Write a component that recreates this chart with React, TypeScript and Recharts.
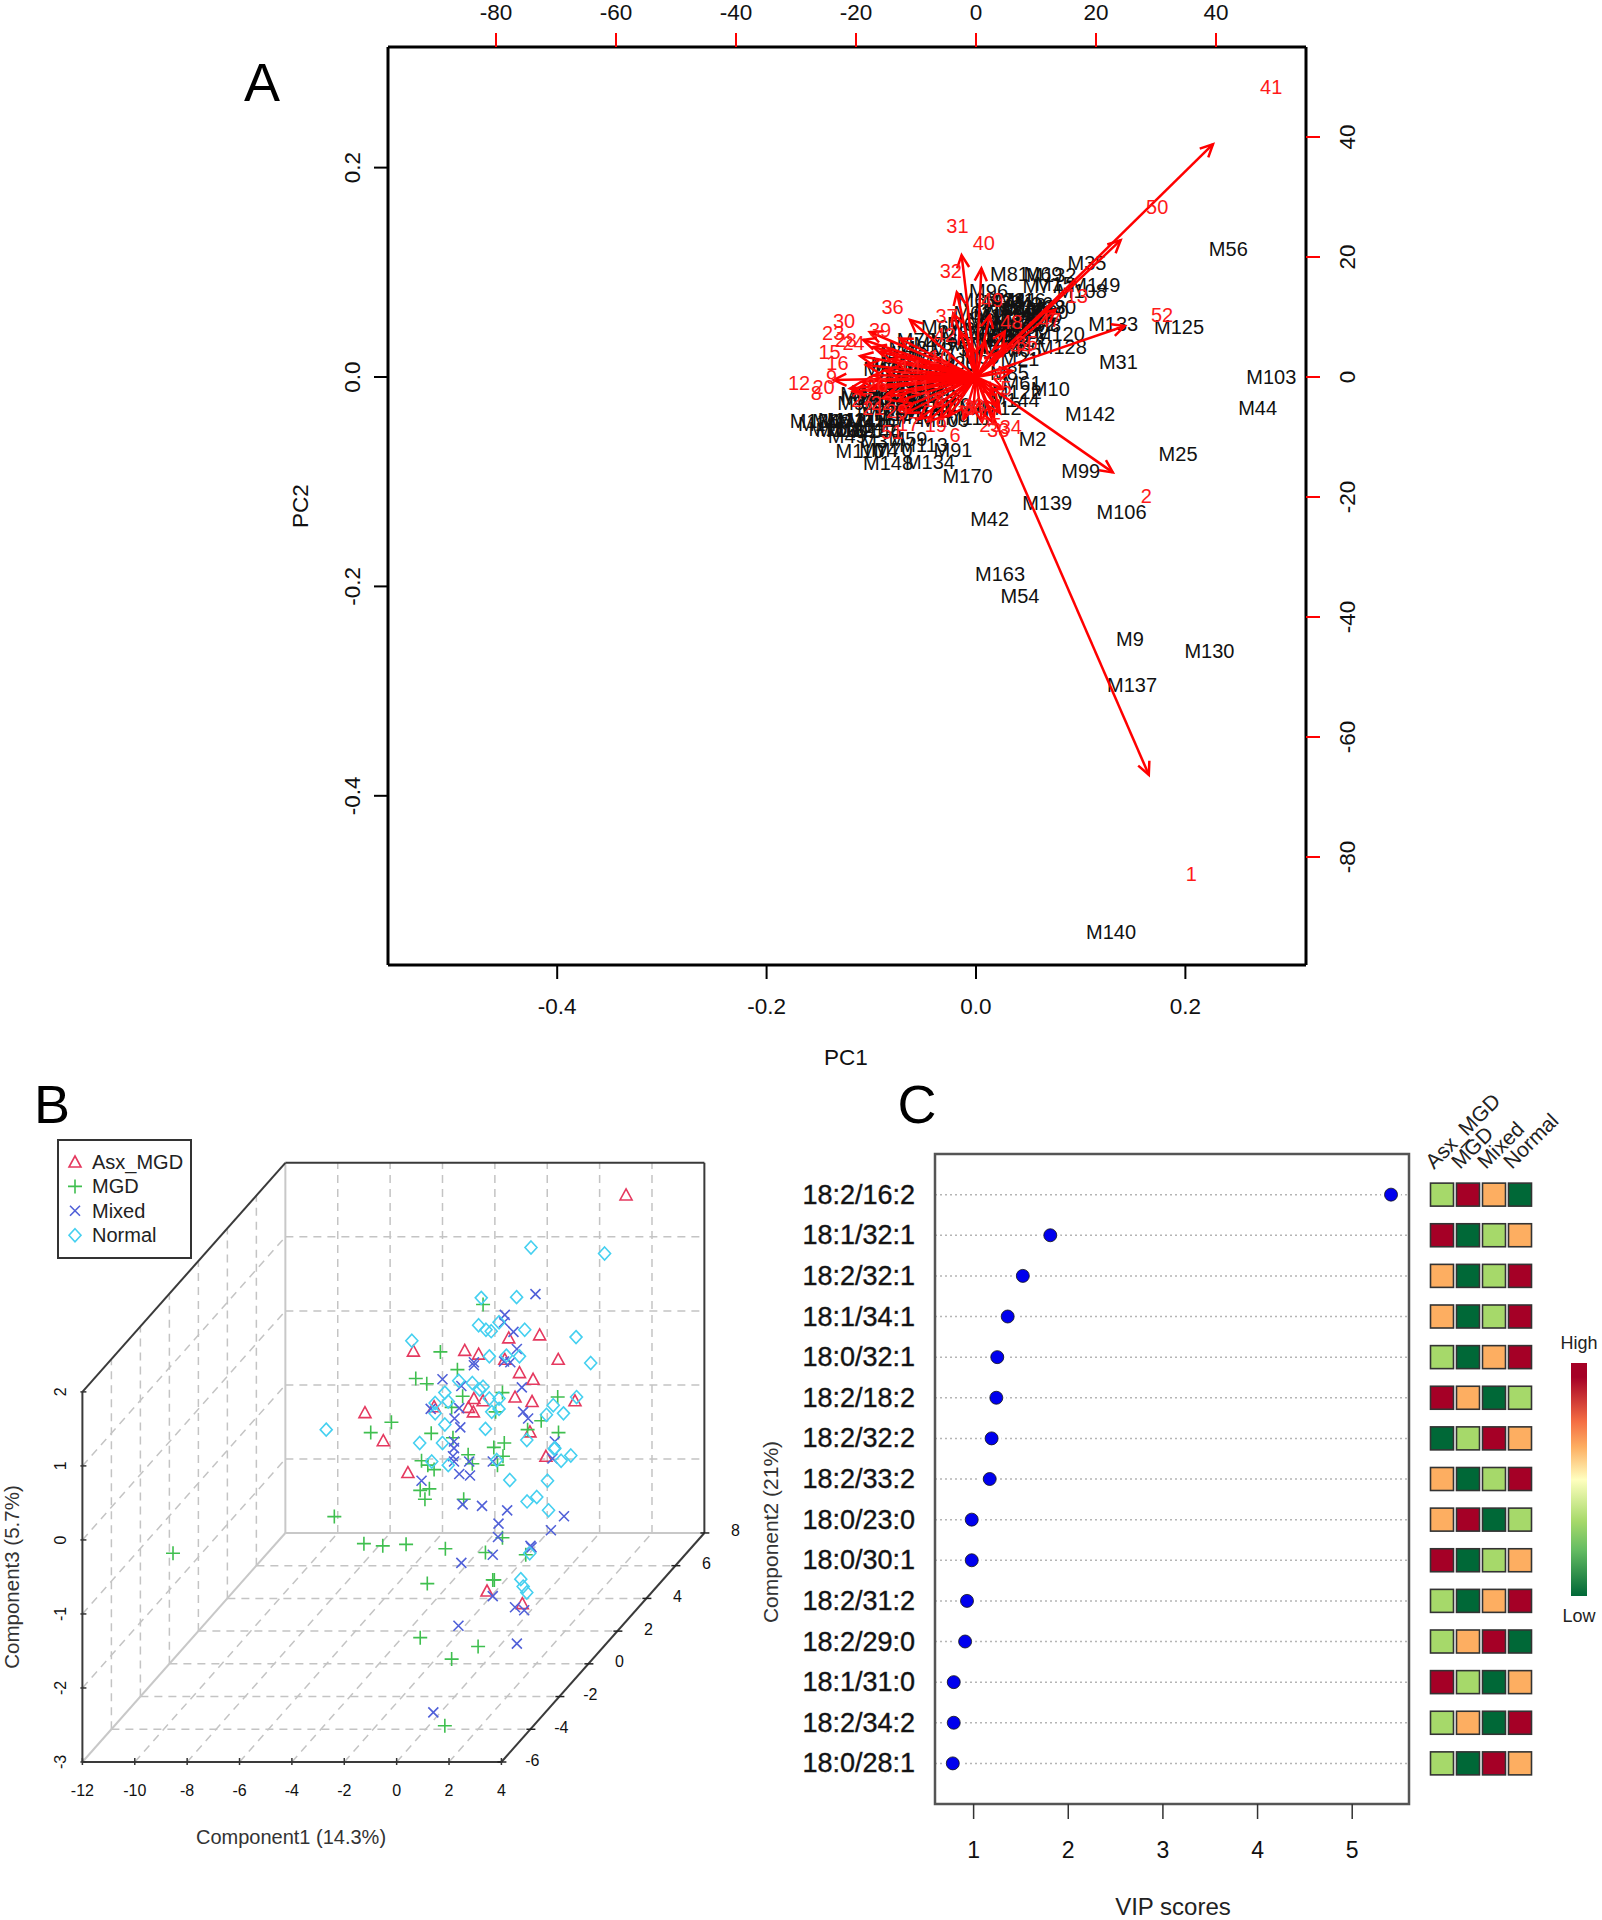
import { CartesianGrid, Legend, ReferenceArea, ReferenceLine, Scatter, ScatterChart, XAxis, YAxis } from "recharts";

const FONT = "'Liberation Sans', Arial, sans-serif";

// ---- Panel A: biplot ----
const pcDomain = [-0.5616, 0.3152];
const loadingDomain = [-98, 55];
const pcTicks = [-0.4, -0.2, 0, 0.2];
const loadingTicks = [-80, -60, -40, -20, 0, 20, 40];

// sample labels: name, PC1, PC2
const samplesOuter: [string, number, number][] = [
  ["M56", 0.241, 0.122], ["M125", 0.194, 0.048], ["M103", 0.282, 0], ["M44", 0.269, -0.03],
  ["M25", 0.193, -0.074], ["M139", 0.068, -0.12], ["M106", 0.139, -0.129], ["M42", 0.013, -0.136],
  ["M163", 0.023, -0.188], ["M54", 0.042, -0.209], ["M9", 0.147, -0.25], ["M130", 0.223, -0.262],
  ["M137", 0.149, -0.294], ["M140", 0.129, -0.53], ["M133", 0.131, 0.051], ["M120", 0.08, 0.041],
  ["M128", 0.082, 0.029], ["M31", 0.136, 0.014], ["M142", 0.109, -0.035], ["M10", 0.071, -0.011],
  ["M2", 0.054, -0.059], ["M99", 0.1, -0.09], ["M170", -0.008, -0.095], ["M35", 0.106, 0.109],
  ["M149", 0.114, 0.088], ["M81", 0.032, 0.098], ["M69", 0.064, 0.098], ["M132", 0.072, 0.097],
  ["M77", 0.063, 0.087], ["M15", 0.075, 0.089], ["M108", 0.101, 0.082],
];
const samplesUpper: [string, number, number][] = [
  ["M96", 0.012, 0.082], ["M33", 0.028, 0.074], ["M16", 0.048, 0.074], ["M30", 0.077, 0.067],
  ["M61", 0.044, -0.006], ["M122", 0.039, -0.014], ["M144", 0.037, -0.022], ["M12", 0.025, -0.03],
  ["M85", 0.032, 0.004], ["M21", 0.042, 0.017], ["M65", 0.044, 0.026], ["M14", 0.048, 0.035],
  ["M82", 0.058, 0.051], ["M18", 0.017, 0.064], ["M22", 0.036, 0.067], ["M26", 0.055, 0.07],
  ["M28", 0.067, 0.067], ["M34", 0.01, 0.054], ["M38", 0.026, 0.058], ["M40", 0.045, 0.058],
  ["M45", 0.064, 0.059], ["M47", 0.007, 0.045], ["M48", 0.023, 0.046], ["M50", 0.039, 0.048],
  ["M52", 0.052, 0.043], ["M53", 0.017, 0.039], ["M55", 0.032, 0.039], ["M57", 0.013, 0.029],
  ["M58", 0.026, 0.029], ["M60", 0.004, 0.019], ["M62", -0.003, 0.061], ["M63", 0.001, 0.074],
  ["M64", -0.009, 0.051], ["M66", -0.015, 0.042], ["M67", -0.034, 0.048], ["M68", -0.025, 0.035],
  ["M71", -0.007, 0.032], ["M1", 0.02, 0.052], ["M3", 0.03, 0.05], ["M5", 0.04, 0.04],
  ["M6", 0.05, 0.052], ["M7", 0.06, 0.06], ["M8", 0.068, 0.05], ["M11", 0.015, 0.058],
  ["M13", 0.028, 0.066], ["M17", 0.042, 0.064], ["M19", 0.056, 0.062], ["M20", 0.07, 0.062],
  ["M23", 0.02, 0.035], ["M24", 0.03, 0.033], ["M27", 0.045, 0.046], ["M29", 0.012, 0.042],
  ["M32", 0.035, 0.055], ["M36", 0.05, 0.065], ["M39", 0.025, 0.072], ["M41", 0.04, 0.074],
];
const samplesLeft: [string, number, number][] = [
  ["M72", -0.057, 0.035], ["M73", -0.041, 0.032], ["M75", -0.025, 0.027], ["M76", -0.073, 0.023],
  ["M78", -0.053, 0.019], ["M79", -0.038, 0.016], ["M80", -0.018, 0.013], ["M83", -0.089, 0.008],
  ["M84", -0.073, 0.007], ["M86", -0.057, 0.004], ["M87", -0.038, 0.002], ["M88", -0.018, 0],
  ["M89", -0.085, -0.006], ["M90", -0.066, -0.009], ["M92", -0.047, -0.011], ["M93", -0.028, -0.012],
  ["M94", -0.101, -0.014], ["M95", -0.111, -0.016], ["M97", -0.114, -0.025], ["M98", -0.095, -0.028],
  ["M100", -0.076, -0.022], ["M101", -0.057, -0.025], ["M102", -0.038, -0.027], ["M104", -0.018, -0.027],
  ["M105", -0.073, -0.035], ["M107", -0.053, -0.038], ["M109", -0.03, -0.041], ["M4", -0.003, -0.03],
  ["M111", -0.007, -0.039], ["M136", -0.154, -0.042], ["M46", -0.138, -0.042], ["M112", -0.128, -0.041],
  ["M114", -0.119, -0.041], ["M115", -0.109, -0.041], ["M116", -0.1, -0.041], ["M117", -0.09, -0.041],
  ["M118", -0.13, -0.051], ["M119", -0.12, -0.051], ["M121", -0.111, -0.051], ["M49", -0.123, -0.056],
  ["M37", -0.092, -0.061], ["M59", -0.065, -0.059], ["M113", -0.05, -0.065], ["M91", -0.022, -0.07],
  ["M110", -0.111, -0.071], ["M70", -0.079, -0.07], ["M74", -0.093, -0.07], ["M148", -0.084, -0.082],
  ["M134", -0.044, -0.081], ["M43", -0.065, 0.028], ["M51", -0.082, 0.012], ["M123", -0.063, -0.002],
  ["M124", -0.045, 0.008], ["M126", -0.08, -0.015], ["M127", -0.06, -0.017], ["M129", -0.042, -0.018],
  ["M131", -0.09, -0.02], ["M135", -0.105, -0.02], ["M138", -0.07, -0.03], ["M141", -0.045, -0.032],
  ["M143", -0.085, -0.035], ["M145", -0.1, -0.047], ["M146", -0.095, -0.052], ["M147", -0.146, -0.045],
  ["M150", -0.136, -0.05],
];

// arrow tips in the top/right axis units
const loadingTips: [number, number][] = [
  [39.5, 38.8], [28.8, -66.3], [22.8, -15.9], [24.8, 8.5], [24.1, 22.8], [-2.4, 20.3], [0.9, 18.1], [-3.2, 14.1],
  [2.3, 10.3], [4.8, 7.6], [13.2, 11.2], [-2.7, 7.6], [-3.8, 10.6], [-11, 9.5], [-17.7, 7.5], [-18.8, 6.2],
  [-17.1, 5], [-19.3, 3.5], [-18.3, 2], [-23.7, -0.5], [-21, -1.9], [-12.7, 6.4], [-16, 4.2], [-14, 3],
  [-15, 1], [-17, 0.3], [-19, -0.8], [-20.5, -2.4], [-14.6, -2.7], [-13, -4], [-11.6, -6], [-12.8, -5.4],
  [-9.5, -7], [-8, -7.4], [-6, -7], [-4.5, -6.5], [-2, -7], [-0.5, -6], [-17, -1.5], [-15.5, -3.5],
  [4, -6], [2.9, -7.7], [3.7, -5], [3, -3], [4.5, -2], [6, 1], [3.5, 4], [5, 5.5], [1.5, 6], [-1, 5.5],
  [1, -7.5], [-7, -5],
];
const loadingLabels: [string, number, number][] = [
  ["41", 49.2, 48.4], ["50", 30.2, 28.4], ["2", 28.4, -19.8], ["1", 35.9, -82.9], ["52", 31, 10.4],
  ["31", -3.1, 25.2], ["40", 1.3, 22.3], ["32", -4.2, 17.6], ["36", -13.9, 11.7], ["30", -22, 9.4],
  ["23", -23.8, 7.3], ["28", -21.7, 6.2], ["24", -20.4, 5.6], ["39", -16, 7.9], ["15", -24.4, 4.2],
  ["16", -23.1, 2.3], ["12", -29.5, -1.06], ["9", -24.06, 0.06], ["20", -25.4, -1.6], ["8", -26.6, -2.6],
  ["37", -4.9, 10.2], ["42", -5.2, 7], ["49", 2.7, 12.9], ["48", 5.9, 9.2], ["13", 16.8, 13.5],
  ["47", 12.3, 9.5], ["27", -19, -3.8], ["21", -17.1, -5.2], ["22", -15.7, -4.4], ["29", -13.2, -5.6],
  ["17", -11.3, -7.8], ["51", -14, -9.1], ["19", -6.7, -8], ["6", -3.5, -9.7], ["3", -1, -5.2],
  ["25", 2.4, -8], ["33", 3.7, -8.8], ["34", 5.8, -8.4], ["5", 5, -1.9], ["4", 3.7, 0.3],
  ["10", -6, 3.4], ["11", -9.3, -1.6], ["14", -11, 1.7], ["18", -7.1, -3.8], ["26", -16.6, -1.3],
  ["35", 8.4, 5.6], ["38", -0.4, -4.9], ["44", 7.6, 5], ["7", -2.1, -6],
];

// ---- Panel B: 3D scatter, read as projected onto Component1 / Component3 of the front face ----
const comp1Ticks = [-12, -10, -8, -6, -4, -2, 0, 2, 4];
const comp2Ticks = [-6, -4, -2, 0, 2, 4, 6, 8];
const comp3Ticks = [-3, -2, -1, 0, 1, 2];
const DEPTH_X = 0.5536;
const DEPTH_Y = 0.221;
const project = (c1: number, c2: number, c3: number) => ({ x: c1 + (c2 + 6) * DEPTH_X, y: c3 + (c2 + 6) * DEPTH_Y });

const asxMgd: [number, number][] = [
  [8.76, 4.66], [0.64, 2.55], [2.6, 2.56], [3.13, 2.51], [4.28, 2.73], [5.46, 2.77], [6.17, 2.44], [4.13, 2.44],
  [4.69, 2.26], [5.21, 2.17], [2.95, 1.91], [3.3, 1.88], [4.52, 1.93], [5.17, 1.87], [6.81, 1.88], [1.43, 1.8],
  [2.74, 1.79], [2.93, 1.73], [-1.21, 1.72], [-0.51, 1.34], [5.09, 1.46], [5.7, 1.13], [0.43, 0.91], [3.45, -0.69],
  [4.8, -0.86],
];
const mgd: [number, number][] = [
  [3.3, 3.18], [1.67, 2.54], [2.32, 2.3], [0.73, 2.18], [1.15, 2.11], [4.04, 1.99], [2.52, 1.94], [6.15, 1.93],
  [2.1, 1.79], [3.78, 1.73], [-0.2, 1.59], [-0.99, 1.45], [1.32, 1.44], [5.52, 1.61], [5, 1.49], [6.18, 1.45],
  [2.15, 1.38], [4.11, 1.31], [3.71, 1.25], [4.06, 1.13], [2.73, 1.15], [0.95, 1.07], [2.89, 1.03], [3.85, 1.01],
  [1.19, 1.01], [1.43, 0.95], [1.25, 0.69], [0.9, 0.67], [1.08, 0.55], [2.56, 0.55], [-2.38, 0.315], [-1.25, -0.05],
  [-0.53, -0.08], [0.36, -0.06], [1.86, -0.12], [3.39, -0.17], [4.93, -0.2], [4.04, 0.03], [-8.54, -0.18], [1.17, -0.59],
  [3.73, -0.54], [3.67, -0.54], [0.9, -1.32], [3.11, -1.44], [2.1, -1.61], [1.84, -2.51],
];
const mixed: [number, number][] = [
  [5.3, 3.32], [4.13, 3.04], [4.1, 2.94], [4.46, 2.81], [4.59, 2.58], [4.1, 2.41], [4.34, 2.4], [2.95, 2.4],
  [2.95, 2.36], [1.75, 2.17], [2.47, 2.08], [4.78, 2.06], [1.3, 1.77], [2.39, 1.78], [4.83, 1.73], [5.02, 1.64],
  [2.21, 1.64], [2.43, 1.52], [6.04, 1.33], [2.19, 1.33], [2.19, 1.24], [2.15, 1.13], [2.19, 1.06], [2.77, 1.06],
  [3.67, 1.06], [5.95, 1.1], [2.39, 0.89], [2.8, 0.87], [0.95, 0.8], [2.52, 0.48], [3.26, 0.46], [4.22, 0.4],
  [6.39, 0.32], [3.89, 0.22], [5.89, 0.13], [3.87, 0.04], [5.11, -0.08], [5.15, -0.1], [3.67, -0.2], [2.47, -0.31],
  [3.67, -0.76], [4.52, -0.91], [4.87, -0.95], [2.36, -1.16], [4.59, -1.4], [1.4, -2.33],
];
const normal: [number, number][] = [
  [5.13, 3.95], [7.94, 3.87], [3.23, 3.27], [4.58, 3.28], [3.13, 2.9], [3.91, 2.94], [3.41, 2.84], [3.61, 2.82],
  [4.89, 2.84], [0.58, 2.69], [6.85, 2.74], [3.54, 2.48], [4.19, 2.49], [4.69, 2.48], [7.41, 2.39], [2.37, 2.15],
  [2.89, 2.12], [3.3, 2.07], [3.17, 2.03], [1.84, 1.99], [3.54, 1.91], [3.91, 1.91], [1.97, 1.87], [1.47, 1.85],
  [6.87, 1.93], [3.91, 1.77], [1.47, 1.71], [3.63, 1.73], [5.98, 1.82], [6.37, 1.71], [5.72, 1.69], [1.84, 1.56],
  [3.39, 1.5], [-2.69, 1.49], [0.88, 1.31], [1.75, 1.31], [4.97, 1.35], [6.04, 1.24], [6.65, 1.14], [6.28, 1.07],
  [1.34, 1.06], [1.97, 1.01], [3.82, 1.08], [6.02, 1.23], [4.32, 0.81], [5.76, 0.8], [5.35, 0.58], [4.98, 0.52],
  [5.8, 0.4], [5.08, -0.18], [4.74, -0.53], [4.83, -0.63], [4.97, -0.71],
];

const groups = [
  { name: "Asx_MGD", glyph: "triangle", color: "#e5395f", points: asxMgd },
  { name: "MGD", glyph: "plus", color: "#3fbf4f", points: mgd },
  { name: "Mixed", glyph: "cross", color: "#5060d8", points: mixed },
  { name: "Normal", glyph: "diamond", color: "#45d0f0", points: normal },
];

// ---- Panel C: VIP scores and group heat map ----
const lipids = [
  "18:2/16:2", "18:1/32:1", "18:2/32:1", "18:1/34:1", "18:0/32:1", "18:2/18:2", "18:2/32:2", "18:2/33:2",
  "18:0/23:0", "18:0/30:1", "18:2/31:2", "18:2/29:0", "18:1/31:0", "18:2/34:2", "18:0/28:1",
];
const vipScores = [5.41, 1.81, 1.52, 1.36, 1.25, 1.24, 1.19, 1.17, 0.98, 0.98, 0.93, 0.91, 0.79, 0.79, 0.78];
const vipTicks = [1, 2, 3, 4, 5];
const heatGroups = ["Asx_MGD", "MGD", "Mixed", "Normal"];
// 4 = highest group, 1 = lowest group
const heatRanks = [
  [2, 4, 3, 1], [4, 1, 2, 3], [3, 1, 2, 4], [3, 1, 2, 4], [2, 1, 3, 4], [4, 3, 1, 2], [1, 2, 4, 3], [3, 1, 2, 4],
  [3, 4, 1, 2], [4, 1, 2, 3], [2, 1, 3, 4], [2, 3, 4, 1], [4, 2, 1, 3], [2, 3, 1, 4], [2, 1, 4, 3],
];
const heatColors: Record<number, string> = { 1: "#006837", 2: "#a6d96a", 3: "#fdae61", 4: "#a50026" };

// ---- shapes ----
const toPoints = (rows: [string, number, number][]) => rows.map(([label, x, y]) => ({ label, x, y }));

const LabelMark = (color: string) => (p: any) => (
  <text x={p.cx} y={p.cy} fill={color} fontSize={20} fontFamily={FONT} textAnchor="middle" dominantBaseline="central">
    {p.payload.label}
  </text>
);

const ArrowHead = (p: any) => {
  const { x, y } = p.payload;
  if (x === 0 && y === 0) return <g />;
  const a = Math.atan2(-y, x);
  const wing = (s: number) => `${p.cx - 14 * Math.cos(a + s)},${p.cy - 14 * Math.sin(a + s)}`;
  return (
    <polyline points={`${wing(0.45)} ${p.cx},${p.cy} ${wing(-0.45)}`} fill="none" stroke="#ff0000" strokeWidth={2.5} />
  );
};

function Glyph({ kind, x, y, color }: { kind: string; x: number; y: number; color: string }) {
  const common = { fill: "none", stroke: color, strokeWidth: 1.6 };
  if (kind === "triangle") return <polygon points={`${x},${y - 6} ${x + 6},${y + 5} ${x - 6},${y + 5}`} {...common} />;
  if (kind === "plus") return <path d={`M${x - 7} ${y}H${x + 7}M${x} ${y - 7}V${y + 7}`} {...common} />;
  if (kind === "cross") return <path d={`M${x - 5} ${y - 5}L${x + 5} ${y + 5}M${x - 5} ${y + 5}L${x + 5} ${y - 5}`} {...common} />;
  return <polygon points={`${x},${y - 6.5} ${x + 6},${y} ${x},${y + 6.5} ${x - 6},${y}`} {...common} />;
}

function Caption({ x, y, size, rotate = 0, color = "#222", children }: any) {
  return (
    <div
      style={{
        position: "absolute",
        left: x,
        top: y,
        transform: `translate(-50%, -50%) rotate(${rotate}deg)`,
        fontFamily: FONT,
        fontSize: size,
        color,
        whiteSpace: "nowrap",
        lineHeight: 1,
      }}
    >
      {children}
    </div>
  );
}

// ---- ticks ----
const tickText = { fontFamily: FONT, fill: "#111", dominantBaseline: "central" } as const;

const pcBottomTick = ({ x, y, payload }: any) => (
  <g>
    <line x1={x} x2={x} y1={y} y2={y + 14} stroke="#000" strokeWidth={2} />
    <text {...tickText} x={x} y={y + 41} fontSize={22.5} textAnchor="middle">{payload.value.toFixed(1)}</text>
  </g>
);
const pcLeftTick = ({ x, y, payload }: any) => (
  <g>
    <line x1={x} x2={x - 14} y1={y} y2={y} stroke="#000" strokeWidth={2} />
    <text {...tickText} x={x - 35} y={y} fontSize={22.5} textAnchor="middle" transform={`rotate(-90 ${x - 35} ${y})`}>
      {payload.value.toFixed(1)}
    </text>
  </g>
);
const loadingTopTick = ({ x, y, payload }: any) => (
  <g>
    <line x1={x} x2={x} y1={y} y2={y - 14} stroke="#ff0000" strokeWidth={2} />
    <text {...tickText} x={x} y={y - 35} fontSize={22.5} textAnchor="middle">{payload.value}</text>
  </g>
);
const loadingRightTick = ({ x, y, payload }: any) => (
  <g>
    <line x1={x} x2={x + 14} y1={y} y2={y} stroke="#ff0000" strokeWidth={2} />
    <text {...tickText} x={x + 41} y={y} fontSize={22.5} textAnchor="middle" transform={`rotate(-90 ${x + 41} ${y})`}>
      {payload.value}
    </text>
  </g>
);
const comp1Tick = ({ x, y, payload }: any) => (
  <g>
    <line x1={x} x2={x} y1={y - 4} y2={y + 3} stroke="#333" strokeWidth={1.5} />
    <text {...tickText} x={x} y={y + 28} fontSize={16} textAnchor="middle">{payload.value}</text>
  </g>
);
const comp3Tick = ({ x, y, payload }: any) => (
  <g>
    <line x1={x - 2} x2={x + 4} y1={y} y2={y} stroke="#333" strokeWidth={1.5} />
    <text {...tickText} x={x - 22} y={y} fontSize={16} textAnchor="middle" transform={`rotate(-90 ${x - 22} ${y})`}>
      {payload.value}
    </text>
  </g>
);
const depthMark = (p: any) => (
  <g>
    <line x1={p.cx - 4} x2={p.cx + 5} y1={p.cy} y2={p.cy} stroke="#222" strokeWidth={1.5} />
    <text {...tickText} x={p.cx + 31} y={p.cy - 2} fontSize={16} textAnchor="middle">{p.payload.label}</text>
  </g>
);
const vipTick = ({ x, y, payload }: any) => (
  <g>
    <line x1={x} x2={x} y1={y} y2={y + 15} stroke="#333" strokeWidth={1.5} />
    <text {...tickText} x={x} y={y + 46} fontSize={23} textAnchor="middle">{payload.value}</text>
  </g>
);
const lipidTick = ({ x, y, payload }: any) => (
  <text {...tickText} x={x - 20} y={y} fontSize={27} textAnchor="end" stroke="#222" strokeWidth={0.4}>
    {lipids[payload.value - 1]}
  </text>
);
const heatGroupTick = ({ x, y, payload }: any) => (
  <text
    fontFamily={FONT}
    fill="#222"
    x={x - 8}
    y={y + 16}
    fontSize={21}
    transform={`rotate(-45 ${x - 8} ${y + 16})`}
  >
    {heatGroups[payload.value - 0.5]}
  </text>
);

const vipDot = (p: any) => (
  <g>
    <circle cx={p.cx} cy={p.cy} r={10} fill="#fff" />
    <circle cx={p.cx} cy={p.cy} r={6.5} fill="#0000ee" stroke="#111" strokeWidth={0.8} />
  </g>
);
const heatCell = (p: any) => (
  <rect
    x={p.cx - 11.5}
    y={p.cy - 11.5}
    width={23}
    height={23}
    fill={heatColors[p.payload.rank]}
    stroke="#333"
    strokeWidth={1.6}
  />
);

// ---- grid of the 3D box, built from the axis ticks ----
type Seg = { from: number[]; to: number[] };
const innerC1 = comp1Ticks.slice(1, -1);
const innerC2 = comp2Ticks.slice(1, -1);
const innerC3 = comp3Ticks.slice(1, -1);
const dashedSegs: Seg[] = [
  ...innerC1.map((c) => ({ from: [c, 8, -3], to: [c, 8, 2] })),
  ...innerC3.map((c) => ({ from: [-12, 8, c], to: [4, 8, c] })),
  ...innerC2.map((c) => ({ from: [-12, c, -3], to: [-12, c, 2] })),
  ...innerC3.map((c) => ({ from: [-12, -6, c], to: [-12, 8, c] })),
  ...innerC2.map((c) => ({ from: [-12, c, -3], to: [4, c, -3] })),
  ...innerC1.map((c) => ({ from: [c, -6, -3], to: [c, 8, -3] })),
];
const lightSegs: Seg[] = [
  { from: [-12, 8, -3], to: [4, 8, -3] },
  { from: [-12, 8, -3], to: [-12, 8, 2] },
  { from: [-12, -6, -3], to: [-12, 8, -3] },
];
const darkSegs: Seg[] = [
  { from: [-12, -6, -3], to: [-12, -6, 2] },
  { from: [-12, -6, -3], to: [4, -6, -3] },
  { from: [4, -6, -3], to: [4, 8, -3] },
  { from: [-12, -6, 2], to: [-12, 8, 2] },
  { from: [-12, 8, 2], to: [4, 8, 2] },
  { from: [4, 8, 2], to: [4, 8, -3] },
];
const toSegment = (s: Seg): any => [project(s.from[0], s.from[1], s.from[2]), project(s.to[0], s.to[1], s.to[2])];

const BoxLegend = () => (
  <div style={{ width: 131, height: 116, border: "2px solid #333", background: "#fff", position: "relative" }}>
    <svg width={40} height={116} style={{ position: "absolute", left: 0, top: 0 }}>
      {groups.map((g, i) => (
        <Glyph key={g.name} kind={g.glyph} x={16} y={21 + i * 24.4} color={g.color} />
      ))}
    </svg>
    {groups.map((g, i) => (
      <div
        key={g.name}
        style={{ position: "absolute", left: 33, top: 10 + i * 24.4, fontFamily: FONT, fontSize: 20, lineHeight: "22px", color: "#222" }}
      >
        {g.name}
      </div>
    ))}
  </div>
);

const axisLine = { stroke: "#000", strokeWidth: 3 };
const tickBase = { tickLine: false, tickSize: 0, tickMargin: 0, interval: 0 as const, allowDataOverflow: true, type: "number" as const };

export default function App() {
  return (
    <div style={{ position: "absolute", left: 0, top: 0, width: 1602, height: 1920, background: "#fff", overflow: "hidden" }}>
      <div style={{ position: "absolute", left: 0, top: 0 }}>
        <ScatterChart width={1602} height={1060} margin={{ top: 0, right: 216, bottom: 35, left: 308 }}>
          <XAxis {...tickBase} xAxisId="pc" dataKey="x" orientation="bottom" height={60} domain={pcDomain} ticks={pcTicks} axisLine={axisLine} tick={pcBottomTick} />
          <XAxis {...tickBase} xAxisId="load" dataKey="x" orientation="top" height={47} domain={loadingDomain} ticks={loadingTicks} axisLine={axisLine} tick={loadingTopTick} />
          <YAxis {...tickBase} yAxisId="pc" dataKey="y" orientation="left" width={80} domain={pcDomain} ticks={pcTicks} axisLine={axisLine} tick={pcLeftTick} />
          <YAxis {...tickBase} yAxisId="load" dataKey="y" orientation="right" width={80} domain={loadingDomain} ticks={loadingTicks} axisLine={axisLine} tick={loadingRightTick} />
          {[samplesLeft, samplesUpper, samplesOuter].map((rows, i) => (
            <Scatter key={i} xAxisId="pc" yAxisId="pc" data={toPoints(rows)} shape={LabelMark("#111")} isAnimationActive={false} />
          ))}
          {loadingTips.map(([x, y], i) => (
            <Scatter
              key={`arrow-${i}`}
              xAxisId="load"
              yAxisId="load"
              data={[{ x: 0, y: 0 }, { x, y }]}
              line={{ stroke: "#ff0000", strokeWidth: 2.5 }}
              shape={ArrowHead}
              isAnimationActive={false}
            />
          ))}
          <Scatter xAxisId="load" yAxisId="load" data={toPoints(loadingLabels)} shape={LabelMark("#ff1a1a")} isAnimationActive={false} />
        </ScatterChart>
      </div>

      <div style={{ position: "absolute", left: 0, top: 1100 }}>
        <ScatterChart width={800} height={780} margin={{ top: 55, right: 76, bottom: 38, left: 12.4 }}>
          <XAxis {...tickBase} allowDataOverflow={false} dataKey="x" height={80} domain={[-12, 12.5]} ticks={comp1Ticks} axisLine={false} tick={comp1Tick} />
          <YAxis {...tickBase} allowDataOverflow={false} dataKey="y" width={70} domain={[-3, 5.2]} ticks={comp3Ticks} axisLine={false} tick={comp3Tick} />
          {dashedSegs.map((s, i) => (
            <ReferenceLine key={`d${i}`} segment={toSegment(s)} stroke="#c4c4c4" strokeWidth={1.5} strokeDasharray="8 6" ifOverflow="visible" />
          ))}
          {lightSegs.map((s, i) => (
            <ReferenceLine key={`l${i}`} segment={toSegment(s)} stroke="#c8c8c8" strokeWidth={2} ifOverflow="visible" />
          ))}
          {darkSegs.map((s, i) => (
            <ReferenceLine key={`k${i}`} segment={toSegment(s)} stroke="#3a3a3a" strokeWidth={2} ifOverflow="visible" />
          ))}
          <Scatter
            data={comp2Ticks.map((c) => ({ ...project(4, c, -3), label: c }))}
            shape={depthMark}
            isAnimationActive={false}
          />
          {groups.map((g) => (
            <Scatter
              key={g.name}
              name={g.name}
              data={g.points.map(([x, y]) => ({ x, y }))}
              shape={(p: any) => <Glyph kind={g.glyph} x={p.cx} y={p.cy} color={g.color} />}
              isAnimationActive={false}
            />
          ))}
          <Legend
            layout="horizontal"
            verticalAlign="middle"
            align="center"
            content={<BoxLegend />}
            wrapperStyle={{ left: 57, top: 39, width: 135, height: 120 }}
          />
        </ScatterChart>
      </div>

      <div style={{ position: "absolute", left: 760, top: 1100 }}>
        <ScatterChart width={700} height={780} margin={{ top: 54, right: 51, bottom: 16, left: 5 }}>
          <CartesianGrid horizontal vertical={false} stroke="#b5b5b5" strokeWidth={1.5} strokeDasharray="2 3" />
          <XAxis {...tickBase} dataKey="x" height={60} domain={[0.592, 5.6]} ticks={vipTicks} axisLine={false} tick={vipTick} />
          <YAxis {...tickBase} dataKey="y" width={170} reversed domain={[0, 16]} ticks={lipids.map((_, i) => i + 1)} axisLine={false} tick={lipidTick} />
          <ReferenceArea x1={0.592} x2={5.6} y1={0} y2={16} fill="none" stroke="#555" strokeWidth={2.5} ifOverflow="visible" />
          <Scatter data={vipScores.map((x, i) => ({ x, y: i + 1 }))} shape={vipDot} isAnimationActive={false} />
        </ScatterChart>
      </div>

      <div style={{ position: "absolute", left: 1409, top: 1054 }}>
        <ScatterChart width={193} height={750} margin={{ top: 0, right: 69, bottom: 0, left: 20 }}>
          <XAxis {...tickBase} dataKey="x" orientation="top" height={100} domain={[0, 4]} ticks={[0.5, 1.5, 2.5, 3.5]} axisLine={false} tick={heatGroupTick} />
          <YAxis {...tickBase} dataKey="y" hide reversed domain={[0, 16]} />
          <Scatter
            data={heatRanks.flatMap((row, i) => row.map((rank, j) => ({ x: j + 0.5, y: i + 1, rank })))}
            shape={heatCell}
            isAnimationActive={false}
          />
        </ScatterChart>
      </div>

      <div
        style={{
          position: "absolute",
          left: 1571,
          top: 1363,
          width: 16,
          height: 233,
          background: "linear-gradient(to bottom, #a50026 0%, #a50026 6%, #f46d43 25%, #fdae61 36%, #ffffbf 50%, #a6d96a 68%, #66bd63 80%, #006837 100%)",
        }}
      />
      <Caption x={1579} y={1343} size={18}>High</Caption>
      <Caption x={1579} y={1616} size={18}>Low</Caption>

      <Caption x={262} y={82} size={54} color="#000">A</Caption>
      <Caption x={52} y={1104} size={54} color="#000">B</Caption>
      <Caption x={917} y={1104} size={54} color="#000">C</Caption>
      <Caption x={846} y={1058} size={22.5} color="#111">PC1</Caption>
      <Caption x={301} y={506} size={22.5} rotate={-90} color="#111">PC2</Caption>
      <Caption x={291} y={1837} size={20} color="#333">Component1 (14.3%)</Caption>
      <Caption x={12} y={1577} size={20.5} rotate={-90} color="#333">Component3 (5.7%)</Caption>
      <Caption x={770} y={1532} size={21} rotate={-90} color="#333">Component2 (21%)</Caption>
      <Caption x={1173} y={1907} size={24} color="#222">VIP scores</Caption>
    </div>
  );
}
